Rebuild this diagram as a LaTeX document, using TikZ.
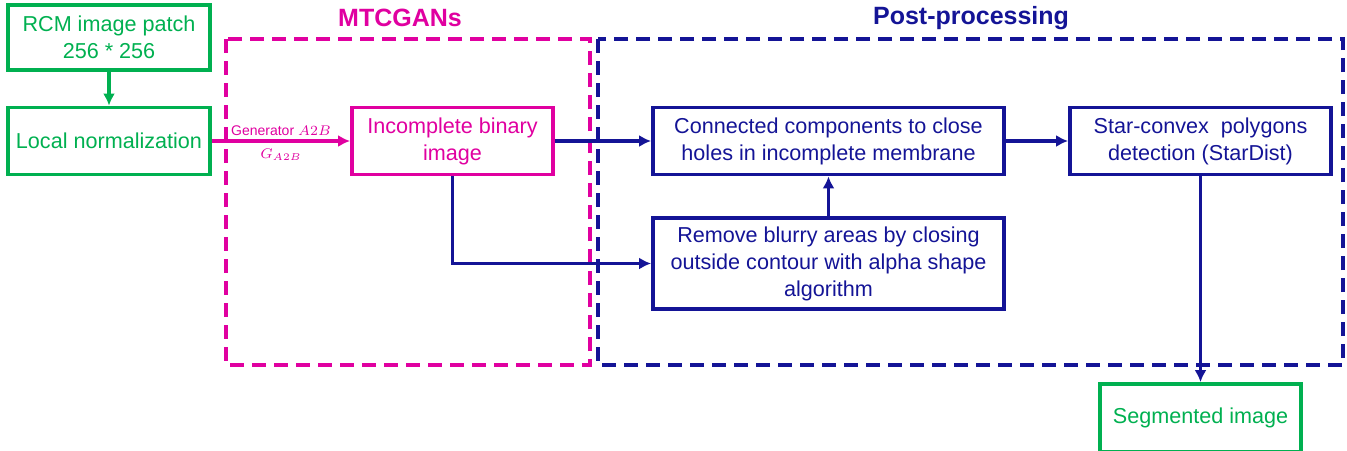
\documentclass[tikz,border=0pt]{standalone}
\usepackage{fontspec}
\setmainfont{Liberation Sans}
\usepackage{xcolor}
\usepackage{tikz}
\usetikzlibrary{arrows.meta, positioning}
\definecolor{MainGreen}{RGB}{0,176,80}
\definecolor{MainMagenta}{RGB}{224,0,160}
\definecolor{MainNavy}{RGB}{20,20,150}
\tikzset{
  >=latex,
  % Blocchi
  block/.style={draw,line width=1.9pt,align=center,inner sep=2pt,
    font=\fontsize{10.8}{13.5}\selectfont},
  block green/.style={block,draw=MainGreen,text=MainGreen},
  block magenta/.style={block,draw=MainMagenta,text=MainMagenta},
  block navy/.style={block,draw=MainNavy,text=MainNavy},
  % Riquadri tratteggiati
  frame/.style={line width=2pt,dash pattern=on 7pt off 4pt},
  frame title/.style={font=\fontsize{12.5}{14}\selectfont\bfseries},
  % Connessioni
  connect arrow/.style={-{Latex[length=6pt,width=6pt]},line width=1.8pt}
}
\begin{document}
\begin{tikzpicture}[x=0.5pt,y=-0.5pt]
    \useasboundingbox (0,0) rectangle (1347,450);
    % frames
    \draw[frame,MainMagenta] (226,39) rectangle (590,365);
    \draw[frame,MainNavy] (598,39) rectangle (1343,365);
    \node[frame title,text=MainMagenta] (mtcgans) at (400,18) {MTCGANs};
    \node[frame title,text=MainNavy] (post) at (971,18) {Post-processing};
    % blocks
    \node[block green,minimum width=101pt,minimum height=32.5pt] (rcm) at (109,37.5)
      {RCM image patch\\256 * 256};
    \node[block green,minimum width=101pt,minimum height=33.5pt] (localnorm) at (109,141)
      {Local normalization};
    \node[block magenta,minimum width=100.5pt,minimum height=33.5pt] (incomplete) at (452.5,141)
      {Incomplete binary\\image};
    \node[block navy,minimum width=175.5pt,minimum height=33.5pt] (connected) at (828.5,141)
      {Connected components to close\\holes in incomplete membrane};
    \node[block navy,minimum width=175.5pt,minimum height=45.5pt] (remove) at (828.5,263.5)
      {Remove blurry areas by closing\\outside contour with alpha shape\\algorithm};
    \node[block navy,minimum width=130.5pt,minimum height=33.5pt] (star) at (1200.5,141)
      {Star-convex\ \ polygons\\detection (StarDist)};
    \node[block green,minimum width=100.5pt,minimum height=34pt] (segmented) at (1200.5,418)
      {Segmented image};
    % arrows
    \draw[connect arrow,MainGreen] (rcm) -- (localnorm);
    \draw[connect arrow,MainMagenta] (localnorm) -- (incomplete)
      node[midway,above=-1.5pt,font=\fontsize{7}{8}\selectfont] (gen) {Generator $A2B$}
      node[midway,below=-0.5pt,font=\fontsize{7}{8}\selectfont] (gab) {$G_{A2B}$};
    \draw[connect arrow,MainNavy] (incomplete) -- (connected);
    \draw[connect arrow,MainNavy] (incomplete.south) |- (remove.west);
    \draw[connect arrow,MainNavy] (remove) -- (connected);
    \draw[connect arrow,MainNavy] (connected) -- (star);
    \draw[connect arrow,MainNavy] (star) -- (segmented);
\end{tikzpicture}
\end{document}
